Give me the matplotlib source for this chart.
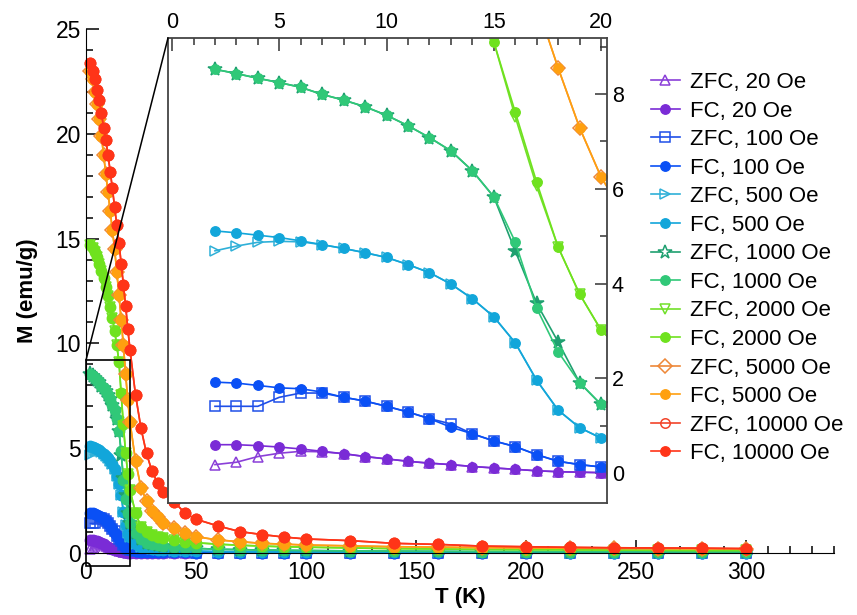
import matplotlib
matplotlib.use("Agg")
import matplotlib.pyplot as plt
from matplotlib.patches import Rectangle, ConnectionPatch

plt.rcParams['font.family'] = ['Liberation Sans', 'DejaVu Sans']

# temperatures (K)
T = [2, 3, 4, 5, 6, 7, 8, 9, 10, 11, 12, 13, 14, 15, 16, 17, 18, 19, 20,
     22.5, 25, 27.5, 30, 32.5, 35, 40, 45, 50,
     60, 70, 80, 90, 100,
     120, 140, 160, 180, 200, 220, 240, 260, 280, 300]

# high-T tails (T >= 22.5), ZFC and FC overlap there
tail_20 = [0.01, 0.01, 0.01, 0.01, 0.0, 0.0, 0.0, 0.0, 0.0, 0.0, 0.0, 0.0,
           0.0, 0.0, 0.0, 0.0, 0.0, 0.0, 0.0, 0.0, 0.0, 0.0, 0.0, 0.0]
tail_100 = [0.09, 0.06, 0.05, 0.04, 0.04, 0.03, 0.03, 0.03, 0.02, 0.02, 0.02, 0.02,
            0.02, 0.02, 0.01, 0.01, 0.01, 0.01, 0.01, 0.01, 0.01, 0.01, 0.01, 0.01]
tail_500 = [0.45, 0.30, 0.22, 0.18, 0.15, 0.13, 0.11, 0.10, 0.09, 0.07, 0.06, 0.05,
            0.05, 0.04, 0.04, 0.03, 0.03, 0.03, 0.03, 0.02, 0.02, 0.02, 0.02, 0.02]
tail_1000 = [0.95, 0.65, 0.50, 0.42, 0.37, 0.33, 0.28, 0.24, 0.22, 0.18, 0.16, 0.14,
             0.13, 0.12, 0.10, 0.09, 0.08, 0.07, 0.07, 0.06, 0.06, 0.06, 0.05, 0.05]
tail_2000 = [1.90, 1.25, 1.00, 0.86, 0.77, 0.70, 0.60, 0.53, 0.49, 0.42, 0.37, 0.33,
             0.30, 0.28, 0.24, 0.21, 0.19, 0.17, 0.16, 0.15, 0.14, 0.13, 0.12, 0.12]
tail_5000 = [4.40, 3.10, 2.50, 2.00, 1.70, 1.45, 1.18, 0.94, 0.78, 0.62, 0.54, 0.46,
             0.42, 0.38, 0.34, 0.30, 0.28, 0.26, 0.24, 0.23, 0.22, 0.21, 0.20, 0.20]
tail_10000 = [7.55, 5.95, 4.75, 3.90, 3.35, 2.93, 2.45, 1.90, 1.61, 1.29, 1.02, 0.88,
              0.76, 0.67, 0.59, 0.46, 0.41, 0.33, 0.30, 0.27, 0.25, 0.24, 0.23, 0.21]

# low-T part, T = 2..20 K
fc_20 = [0.60, 0.60, 0.58, 0.55, 0.51, 0.46, 0.41, 0.35, 0.30, 0.25, 0.21, 0.18,
         0.14, 0.11, 0.08, 0.05, 0.03, 0.02, 0.01] + tail_20
zfc_20 = [0.18, 0.23, 0.35, 0.42, 0.46, 0.45, 0.41, 0.35, 0.30, 0.25, 0.21, 0.18,
          0.14, 0.11, 0.08, 0.05, 0.03, 0.02, 0.01] + tail_20
fc_100 = [1.92, 1.90, 1.85, 1.80, 1.78, 1.71, 1.60, 1.52, 1.41, 1.29, 1.15, 0.97,
          0.83, 0.68, 0.56, 0.39, 0.25, 0.18, 0.13] + tail_100
zfc_100 = [1.41, 1.41, 1.41, 1.60, 1.69, 1.69, 1.60, 1.52, 1.41, 1.29, 1.15, 1.04,
           0.83, 0.68, 0.56, 0.39, 0.25, 0.18, 0.13] + tail_100
fc_500 = [5.11, 5.07, 5.02, 4.97, 4.90, 4.82, 4.74, 4.65, 4.55, 4.40, 4.23, 3.99,
          3.68, 3.30, 2.75, 1.96, 1.33, 0.96, 0.74] + tail_500
zfc_500 = [4.69, 4.79, 4.87, 4.89, 4.88, 4.82, 4.74, 4.65, 4.55, 4.40, 4.23, 3.99,
           3.68, 3.30, 2.75, 1.96, 1.33, 0.96, 0.74] + tail_500
fc_1000 = [8.52, 8.43, 8.33, 8.24, 8.14, 7.99, 7.87, 7.73, 7.55, 7.33, 7.08, 6.80,
           6.38, 5.83, 4.88, 3.48, 2.56, 1.91, 1.45] + tail_1000
zfc_1000 = [8.52, 8.43, 8.33, 8.24, 8.14, 7.99, 7.87, 7.73, 7.55, 7.33, 7.08, 6.80,
            6.38, 5.83, 4.69, 3.58, 2.77, 1.91, 1.45] + tail_1000
fc_2000 = [14.7, 14.55, 14.35, 14.1, 13.8, 13.45, 13.1, 12.7, 12.25, 11.75, 11.2, 10.6,
           9.9, 9.1, 7.62, 6.14, 4.77, 3.78, 3.02] + tail_2000
zfc_2000 = [14.7, 14.55, 14.35, 14.1, 13.8, 13.45, 13.1, 12.7, 12.25, 11.75, 11.2, 10.6,
            9.9, 9.1, 7.52, 6.05, 4.77, 3.78, 3.02] + tail_2000
fc_5000 = [23.0, 22.6, 22.0, 21.4, 20.7, 19.9, 19.0, 18.1, 17.2, 16.3, 15.4, 14.5,
           13.4, 12.3, 11.1, 9.9, 8.55, 7.29, 6.25] + tail_5000
zfc_5000 = fc_5000
fc_10000 = [23.4, 23.0, 22.6, 22.1, 21.6, 21.0, 20.3, 19.7, 19.0, 18.2, 17.4, 16.5,
            15.65, 14.8, 13.8, 12.8, 11.8, 10.7, 9.7] + tail_10000
zfc_10000 = fc_10000

fields = ['20', '100', '500', '1000', '2000', '5000', '10000']
zfc_data = [zfc_20, zfc_100, zfc_500, zfc_1000, zfc_2000, zfc_5000, zfc_10000]
fc_data = [fc_20, fc_100, fc_500, fc_1000, fc_2000, fc_5000, fc_10000]
zfc_colors = ['#8A3FD8', '#1F4FE8', '#2FB0D8', '#1FA070', '#72E02A', '#EE8838', '#F2442A']
fc_colors = ['#7A2BD6', '#0A50F5', '#12A6DA', '#30C878', '#6FE21E', '#FFA010', '#FF3418']
zfc_markers = ['^', 's', '>', '*', 'v', 'D', 'o']

fig = plt.figure(figsize=(8.57, 6.15), dpi=100)

ax = fig.add_axes([86 / 857, 1 - 553 / 615, (834 - 86) / 857, (553 - 29) / 615])
axins = fig.add_axes([168 / 857, 1 - 503 / 615, (607 - 168) / 857, (503 - 38) / 615])


def draw(a, ms):
    for i in range(len(fields)):
        zms = ms * 1.45 if zfc_markers[i] == '*' else ms
        if zfc_markers[i] == '*':
            face = zfc_colors[i]
        else:
            face = 'none'
        a.plot(T, zfc_data[i], color=zfc_colors[i], marker=zfc_markers[i], ms=zms,
               mfc=face, mec=zfc_colors[i], mew=1.1, lw=1.2,
               label=f'ZFC, {fields[i]} Oe', clip_on=(a is axins))
        a.plot(T, fc_data[i], color=fc_colors[i], marker='o', ms=ms,
               mfc=fc_colors[i], mec=fc_colors[i], lw=1.2,
               label=f'FC, {fields[i]} Oe', clip_on=(a is axins))


draw(ax, 7.5)
draw(axins, 6.8)

# main axes
ax.set_xlim(0, 340)
ax.set_ylim(0, 25)
ax.spines['top'].set_visible(False)
ax.spines['right'].set_visible(False)
ax.set_xticks(range(0, 301, 50))
ax.set_xticks(range(0, 341, 10), minor=True)
ax.set_yticks(range(0, 26, 5))
ax.set_yticks(range(0, 26, 1), minor=True)
ax.tick_params(which='both', direction='in', labelsize=16.5, width=1.1)
ax.tick_params(which='major', length=9.5)
ax.tick_params(which='minor', length=5)
ax.tick_params(axis='x', pad=6)
ax.set_xlabel('T (K)', fontsize=16, fontweight='bold', labelpad=2)
ax.set_ylabel('M (emu/g)', fontsize=16, fontweight='bold', labelpad=13)

ax.add_patch(Rectangle((0, -0.62), 20, 9.82, fill=False, ec='black', lw=1.2,
                       clip_on=False, zorder=5))

# inset
axins.set_xlim(-0.19, 20.28)
axins.set_ylim(-0.63, 9.18)
axins.xaxis.tick_top()
axins.yaxis.tick_right()
axins.set_xticks(range(0, 21, 5))
axins.set_xticks(range(0, 21, 1), minor=True)
axins.set_yticks(range(0, 9, 2))
axins.set_yticks(range(0, 10, 1), minor=True)
axins.tick_params(which='both', direction='in', labelsize=15.5, width=1.1,
                  colors='#333333', labelcolor='black')
axins.tick_params(which='major', length=9)
axins.tick_params(which='minor', length=5)
for s in axins.spines.values():
    s.set_color('#444444')
    s.set_linewidth(1.3)

for xyA, xyB in [((0, 9.2), (-0.19, 9.18)), ((20, -0.62), (20.28, -0.63))]:
    con = ConnectionPatch(xyA=xyA, coordsA='data', axesA=ax,
                          xyB=xyB, coordsB='data', axesB=axins,
                          color='black', lw=1.1, zorder=10)
    fig.add_artist(con)

handles, labels = axins.get_legend_handles_labels()
leg = fig.legend(handles, labels, loc='upper left', bbox_to_anchor=(651 / 857, 1 - 72 / 615),
                 frameon=False, fontsize=16, handlelength=1.3, handletextpad=0.45,
                 labelspacing=0.34, borderpad=0, borderaxespad=0)
for h in leg.legend_handles:
    if h.get_marker() == '*':
        h.set_markerfacecolor('white')

fig.savefig('out.png', dpi=100)
